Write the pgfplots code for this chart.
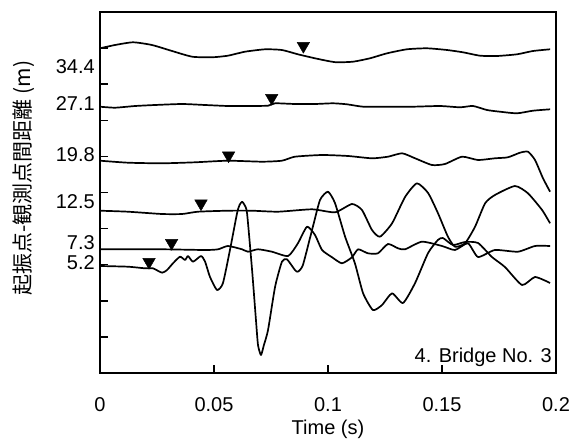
\documentclass[border=0pt]{standalone}
\usepackage{fontspec}
\setmainfont{Liberation Sans}
\newfontfamily\cjk{Noto Sans CJK JP}
\usepackage{pgfplots}
\pgfplotsset{compat=1.18}
\begin{document}
\begin{tikzpicture}
\useasboundingbox (-100pt,-68pt) rectangle (478pt,373pt);
\begin{axis}[
  scale only axis, width=456pt, height=361pt,
  at={(0,0)}, anchor=south west,
  xmin=0, xmax=0.2, ymin=12, ymax=373, y dir=reverse,
  axis line style={line width=1.8pt},
  tick align=inside, xtick pos=lower, ytick pos=left,
  major tick length=8pt, tick style={line width=1.4pt, black},
  xtick={0,0.05,0.1,0.15,0.2}, xticklabels={0,0.05,0.1,0.15,0.2},
  ytick={48.1,84.2,120.3,156.4,192.5,228.6,264.7,300.8,336.9},
  yticklabels={},
  extra y ticks={66.7,103.5,155,201.7,242.5,262.5},
  extra y tick labels={34.4,27.1,19.8,12.5,7.3,5.2},
  extra y tick style={major tick length=0pt},
  /pgf/number format/assume math mode=true,
  tick label style={font=\fontsize{20}{24}\selectfont},
  xticklabel style={inner sep=0pt, anchor=north, yshift=-24pt},
  yticklabel style={inner sep=0pt, anchor=east, xshift=-5pt},
  xlabel={Time (s)},
  xlabel style={font=\fontsize{20}{24}\selectfont, at={(axis description cs:0.5,0)}, anchor=north, inner sep=0pt, yshift=-46.7pt},
  ylabel={\cjk 起振点-観測点間距離 (m)},
  ylabel style={font=\fontsize{21}{25}\selectfont, at={(axis description cs:-0.168,0.54)}, anchor=center, inner sep=0pt},
  trace/.style={black, no markers, line width=1.7pt, line join=round, smooth, tension=0.35},
]
% 34.4 m
\addplot[trace] coordinates {(0,48.3)(0.0066,45)(0.0145,42.3)(0.0228,45)(0.0316,51)(0.0404,56.7)(0.0491,57.3)(0.0561,55.7)(0.0636,51.7)(0.0724,49.3)(0.0798,50)(0.0868,54.3)(0.0943,58.3)(0.1000,61)(0.1039,62.3)(0.1110,61.7)(0.1184,58.3)(0.1259,53.3)(0.1346,49.3)(0.1434,48.3)(0.1522,50)(0.1592,52.3)(0.1667,55.7)(0.1741,56)(0.1829,54.3)(0.1899,51)(0.1974,49.3)};
% 27.1 m
\addplot[trace] coordinates {(0,106.7)(0.0066,107.7)(0.0154,106)(0.0241,105)(0.0360,104)(0.0461,105)(0.0561,106)(0.0649,106)(0.0737,105.7)(0.0768,103.3)(0.0855,104)(0.0943,104)(0.1022,103.3)(0.1083,104.3)(0.1154,106.7)(0.1259,106.7)(0.1373,106.7)(0.1491,106)(0.1579,107.3)(0.1636,106)(0.1697,110)(0.1754,111.7)(0.1829,113.3)(0.1899,110.7)(0.1974,109.3)};
% 19.8 m
\addplot[trace] coordinates {(0,160.7)(0.0123,162.7)(0.0272,163.3)(0.0417,162.3)(0.0561,160.7)(0.0711,161.7)(0.0798,160.7)(0.0855,156.7)(0.0974,155)(0.1088,156)(0.1193,158.3)(0.1263,156.7)(0.1325,153.3)(0.1382,158.3)(0.1456,165)(0.1513,164)(0.1588,156.7)(0.1658,160)(0.1732,158.3)(0.1789,157.3)(0.1842,152.7)(0.1877,151.7)(0.1908,160)(0.1943,178.3)(0.1974,191.7)};
% 12.5 m
\addplot[trace] coordinates {(0,210.7)(0.0123,211.7)(0.0272,214)(0.0360,214)(0.0430,211.7)(0.0561,210.7)(0.0667,210.7)(0.0781,211.7)(0.0930,209.3)(0.1031,212.3)(0.1105,204)(0.1149,210)(0.1193,230)(0.1228,236.7)(0.1281,223.3)(0.1338,197)(0.1390,183.3)(0.1439,193)(0.1482,213)(0.1526,236.7)(0.1557,246.7)(0.1601,243.3)(0.1645,226.7)(0.1689,203.3)(0.1732,195)(0.1820,186)(0.1877,193.3)(0.1939,210)(0.1974,223.3)};
% 7.3 m
\addplot[trace] coordinates {(0,249.3)(0.0272,249.3)(0.0461,250)(0.0518,249.3)(0.0561,246)(0.0623,249.3)(0.0649,251.7)(0.0693,249.3)(0.0754,251.7)(0.0825,256)(0.0868,243.3)(0.0908,226.7)(0.0943,235)(0.0974,250)(0.1018,257.3)(0.1061,263.3)(0.1105,257.3)(0.1132,249.3)(0.1175,253.3)(0.1219,253.3)(0.1263,244)(0.1307,248.3)(0.1338,249.3)(0.1412,241.7)(0.1500,246)(0.1557,250)(0.1614,243.3)(0.1658,257)(0.1732,250)(0.1833,251.7)(0.1908,246)(0.1974,246)};
% 5.2 m
\addplot[trace] coordinates {(0,266)(0.0123,266.7)(0.0197,268.3)(0.0232,268.3)(0.0272,272.7)(0.0294,270)(0.0320,263.3)(0.0351,256.7)(0.0373,260)(0.0386,256)(0.0408,261.7)(0.0443,256)(0.0461,261.7)(0.0482,276.7)(0.0513,290)(0.0539,283.3)(0.0570,250)(0.0601,213.3)(0.0612,205)(0.0623,201.7)(0.0634,205)(0.0645,213.3)(0.0667,270)(0.0684,320)(0.0693,345)(0.0706,355)(0.0719,345)(0.0737,330)(0.0768,286.7)(0.0798,261.7)(0.0820,259.3)(0.0855,270)(0.0868,271.7)(0.0890,265)(0.0930,230)(0.0965,200)(0.1000,191.7)(0.1031,203.3)(0.1075,236.7)(0.1118,263.3)(0.1154,293.3)(0.1197,310)(0.1237,305)(0.1281,293.3)(0.1329,303)(0.1382,283)(0.1439,253)(0.1482,240)(0.1504,238)(0.1548,245)(0.1601,242)(0.1658,243)(0.1719,257)(0.1776,267)(0.1851,285)(0.1908,277)(0.1974,283)};
% arrival markers
\addplot[only marks, mark=triangle*, mark size=7.2pt, mark options={rotate=180, fill=black, draw=black, line width=0.4pt}] coordinates {(0.0892,46)(0.0753,98)(0.0564,155.5)(0.0443,203.5)(0.0314,243)(0.0215,262)};
\node[anchor=base east, inner sep=0pt, font=\fontsize{20}{24}\selectfont] at ([xshift=-4pt,yshift=11pt]rel axis cs:1,0) {4. Bridge No. 3};
\end{axis}
\end{tikzpicture}
\end{document}
